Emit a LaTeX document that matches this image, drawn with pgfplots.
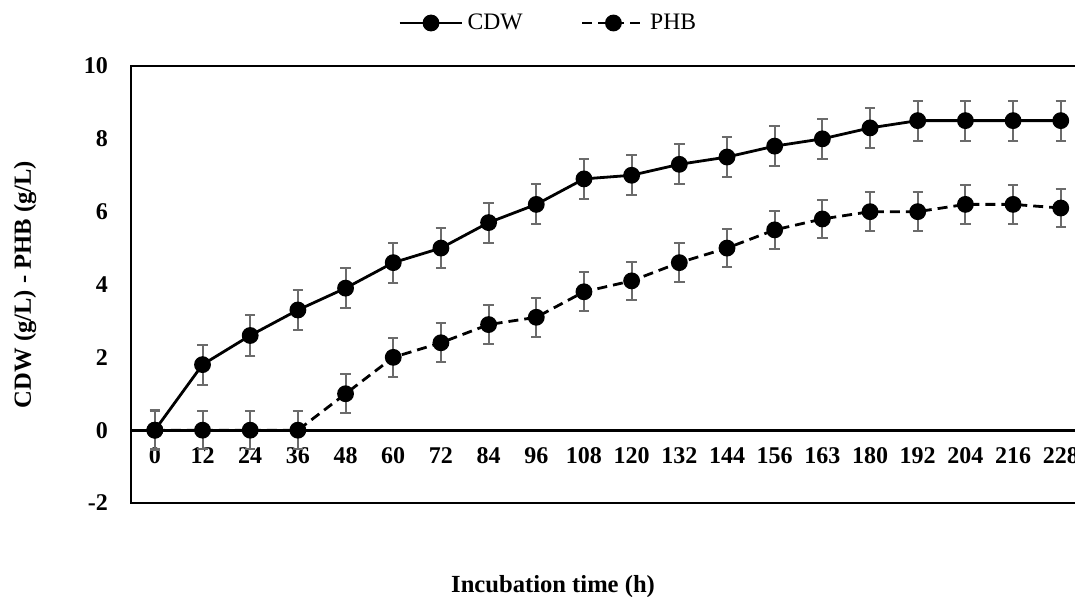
\documentclass[border=0pt]{standalone}
\usepackage{fontspec}
\setmainfont{Liberation Serif}
\usepackage{pgfplots}
\pgfplotsset{compat=1.18}
\definecolor{errgray}{HTML}{6B6B6B}
\begin{document}
\begin{tikzpicture}
\begin{axis}[
  scale only axis,
  width=476.8pt, height=218.5pt,
  xmin=-0.5, xmax=19.5,
  ymin=-2, ymax=10,
  ytick={-2,0,2,4,6,8,10},
  xtick={0,...,19},
  xticklabels={0,12,24,36,48,60,72,84,96,108,120,132,144,156,163,180,192,204,216,228},
  major tick length=0pt,
  axis line style={line width=1.2pt},
  /pgf/number format/assume math mode=true,
  ticklabel style={font=\fontsize{12}{14}\selectfont\bfseries},
  yticklabel style={xshift=-8pt},
  xticklabel style={anchor=base, yshift=20pt},
  xlabel={Incubation time (h)},
  ylabel={CDW (g/L) - PHB (g/L)},
  label style={font=\fontsize{12.3}{14}\selectfont\bfseries},
  xlabel style={at={(axis description cs:0.4426,0)}, anchor=center, yshift=-42pt},
  ylabel style={at={(axis description cs:-0.1112,0.5)}, anchor=center},
  legend columns=2,
  legend style={draw=none, fill=none, at={(axis description cs:0.4385,1)}, anchor=center, yshift=21.5pt,
    font=\fontsize{11.8}{14}\selectfont, /tikz/every even column/.append style={column sep=27pt}},
  legend image code/.code={\draw[mark repeat=2,mark phase=2] plot coordinates {(0cm,0cm)(0.55cm,0cm)(1.1cm,0cm)};},
  clip=false,
]
\draw[line width=1.6pt] (axis cs:-0.5,0) -- (axis cs:19.5,0);
\addplot[black, line width=1.4pt, mark=*, mark size=3.5pt, mark options={solid},
  error bars/.cd, y dir=both, y explicit,
  error bar style={errgray, line width=1pt, solid},
  error mark options={errgray, rotate=90, mark size=2.6pt, line width=1pt}]
  table[x=x, y=y, y error=e] {
x y e
0 0 0.55
1 1.8 0.55
2 2.6 0.55
3 3.3 0.55
4 3.9 0.55
5 4.6 0.55
6 5.0 0.55
7 5.7 0.55
8 6.2 0.55
9 6.9 0.55
10 7.0 0.55
11 7.3 0.55
12 7.5 0.55
13 7.8 0.55
14 8.0 0.55
15 8.3 0.55
16 8.5 0.55
17 8.5 0.55
18 8.5 0.55
19 8.5 0.55
};
\addlegendentry{CDW}
\addplot[black, line width=1.4pt, dash pattern=on 5pt off 3pt, mark=*, mark size=3.5pt, mark options={solid},
  error bars/.cd, y dir=both, y explicit,
  error bar style={errgray, line width=1pt, solid},
  error mark options={errgray, rotate=90, mark size=2.6pt, line width=1pt, solid}]
  table[x=x, y=y, y error=e] {
x y e
0 0 0.53
1 0 0.53
2 0 0.53
3 0 0.53
4 1.0 0.53
5 2.0 0.53
6 2.4 0.53
7 2.9 0.53
8 3.1 0.53
9 3.8 0.53
10 4.1 0.53
11 4.6 0.53
12 5.0 0.53
13 5.5 0.53
14 5.8 0.53
15 6.0 0.53
16 6.0 0.53
17 6.2 0.53
18 6.2 0.53
19 6.1 0.53
};
\addlegendentry{PHB}
\end{axis}
\pgfresetboundingbox
\useasboundingbox (-65.5pt,-46.5pt) rectangle (472pt,251.5pt);
\end{tikzpicture}
\end{document}
